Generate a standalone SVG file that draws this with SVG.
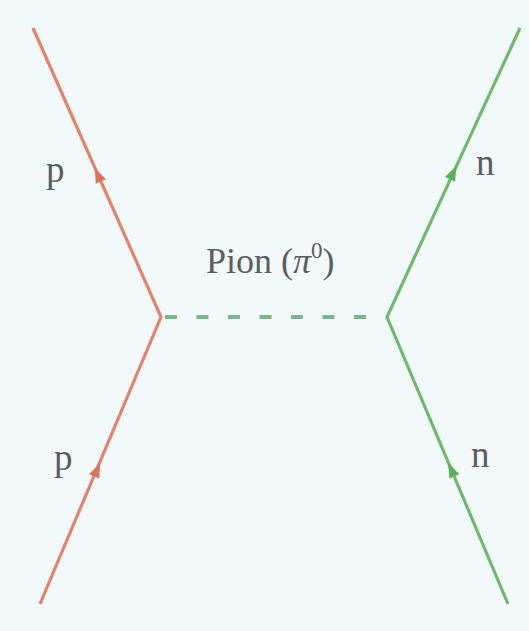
<svg xmlns="http://www.w3.org/2000/svg" width="529" height="631" viewBox="0 0 529 631">
<style>
.lbl{font-family:"Liberation Serif","Times New Roman",serif;fill:#5a5e62}
.red{stroke:#e2836c;stroke-width:3.2;fill:none;stroke-linejoin:miter}
.grn{stroke:#72b86a;stroke-width:3.2;fill:none;stroke-linejoin:miter}
.ra{fill:#d8735c}
.ga{fill:#5fae5a}
</style>
<defs>
<polygon id="ah" points="8,0 -7,-5.5 -7,5.5"/>
</defs>
<rect width="529" height="631" fill="#f3f8fb"/>
<g id="connectors">
<polyline id="proton-line" class="red" points="33,28 161,317 40,604"/>
<polyline id="neutron-line" class="grn" points="520,28 387,317 508,604"/>
<line id="pion-line" x1="165" y1="317" x2="383" y2="317" stroke="#7fb38c" stroke-width="4" stroke-dasharray="12 19.5"/>
<use href="#ah" class="ra" transform="translate(98,175) rotate(-113.9)"/>
<use href="#ah" class="ra" transform="translate(97,470) rotate(-67.1)"/>
<use href="#ah" class="ga" transform="translate(453,173) rotate(-65.3)"/>
<use href="#ah" class="ga" transform="translate(451.5,470) rotate(-112.9)"/>
</g>
<g id="p-top"><text class="lbl" x="46" y="182" font-size="37">p</text></g>
<g id="p-bottom"><text class="lbl" x="54" y="470" font-size="37">p</text></g>
<g id="n-top"><text class="lbl" x="476" y="175" font-size="37">n</text></g>
<g id="n-bottom"><text class="lbl" x="471" y="467" font-size="37">n</text></g>
<g id="pion-label"><text class="lbl" x="206" y="273" font-size="36">Pion (<tspan font-style="italic">π</tspan><tspan font-size="23" dy="-15">0</tspan><tspan dy="15">)</tspan></text></g>
</svg>
